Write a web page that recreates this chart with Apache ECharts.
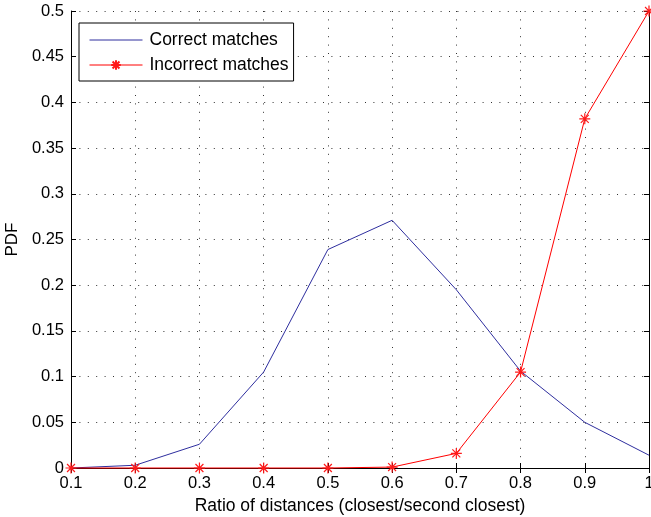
<!DOCTYPE html>
<html>
<head>
<meta charset="utf-8">
<script src="https://cdn.jsdelivr.net/npm/echarts@6/dist/echarts.min.js"></script>
<style>
  html, body { margin: 0; padding: 0; background: #fff; }
  #chart { width: 651px; height: 517px; }
</style>
</head>
<body>
<div id="chart"></div>
<script>
// Ratio of closest to second-closest descriptor distance
const ratios = [0.1, 0.2, 0.3, 0.4, 0.5, 0.6, 0.7, 0.8, 0.9, 1.0];
// Probability density for correct and incorrect matches
const correctPdf = [0, 0.003, 0.026, 0.105, 0.239, 0.271, 0.195, 0.106, 0.050, 0.014];
const incorrectPdf = [0, 0, 0, 0, 0, 0.001, 0.016, 0.105, 0.382, 0.5];

const font = 'Liberation Sans, Arial, Helvetica, sans-serif';
const asterisk = 'path://M0,-1L0,1M-1,0L1,0M-0.72,-0.72L0.72,0.72M-0.72,0.72L0.72,-0.72';

const toPairs = (xs, ys) => xs.map((x, i) => [x, ys[i]]);
const fmt = v => String(+v.toFixed(2));

const gridLine = { show: true, lineStyle: { color: '#333', type: [1, 7.4], width: 1 } };
const tickStyle = { show: true, inside: true, length: 5, lineStyle: { color: '#000' } };
const frameLine = { show: true, lineStyle: { color: '#000', width: 1 } };

const chart = echarts.init(document.getElementById('chart'), null, { renderer: 'canvas' });
chart.setOption({
  animation: false,
  backgroundColor: '#fff',
  grid: { left: 71, right: 2, top: 11, bottom: 49, containLabel: false, outerBoundsMode: 'none' },
  legend: {
    left: 79, top: 23,
    orient: 'vertical',
    itemWidth: 53, itemHeight: 12, itemGap: 7,
    padding: [8, 5, 7, 10],
    borderColor: '#000', borderWidth: 1,
    backgroundColor: '#fff',
    lineStyle: { width: 1 },
    textStyle: { fontFamily: font, fontSize: 17.5, color: '#000', padding: [0, 0, 0, 2] },
    data: [
      { name: 'Correct matches', itemStyle: { color: 'rgba(0,0,0,0)', borderWidth: 0 } },
      { name: 'Incorrect matches' }
    ]
  },
  xAxis: [{
    type: 'value', min: 0.1, max: 1, interval: 0.1,
    name: 'Ratio of distances (closest/second closest)',
    nameLocation: 'middle', nameGap: 27,
    nameTextStyle: { fontFamily: font, fontSize: 17.5, color: '#000' },
    axisLine: frameLine,
    axisTick: tickStyle,
    axisLabel: { fontFamily: font, fontSize: 16.5, color: '#000', margin: 7, formatter: fmt },
    splitLine: gridLine
  }, {
    type: 'value', min: 0.1, max: 1, interval: 0.1, position: 'top',
    axisLine: frameLine, axisTick: tickStyle,
    axisLabel: { show: false }, splitLine: { show: false }
  }],
  yAxis: [{
    type: 'value', min: 0, max: 0.5, interval: 0.05,
    name: 'PDF', nameLocation: 'middle', nameGap: 49,
    nameTextStyle: { fontFamily: font, fontSize: 17, color: '#000' },
    axisLine: frameLine,
    axisTick: tickStyle,
    axisLabel: { fontFamily: font, fontSize: 16.5, color: '#000', margin: 7, formatter: fmt },
    splitLine: gridLine
  }, {
    type: 'value', min: 0, max: 0.5, interval: 0.05, position: 'right',
    axisLine: frameLine, axisTick: tickStyle,
    axisLabel: { show: false }, splitLine: { show: false }
  }],
  series: [{
    name: 'Correct matches',
    type: 'line',
    data: toPairs(ratios, correctPdf),
    symbol: 'none',
    lineStyle: { color: '#2e2e9e', width: 1 },
    itemStyle: { color: '#2e2e9e' },
    z: 3
  }, {
    name: 'Incorrect matches',
    type: 'line',
    data: toPairs(ratios, incorrectPdf),
    symbol: asterisk, symbolSize: 11,
    clip: false,
    lineStyle: { color: '#ff0000', width: 1 },
    itemStyle: { color: 'rgba(0,0,0,0)', borderColor: '#ff1a1a', borderWidth: 1.2 },
    z: 4
  }]
});
</script>
</body>
</html>
